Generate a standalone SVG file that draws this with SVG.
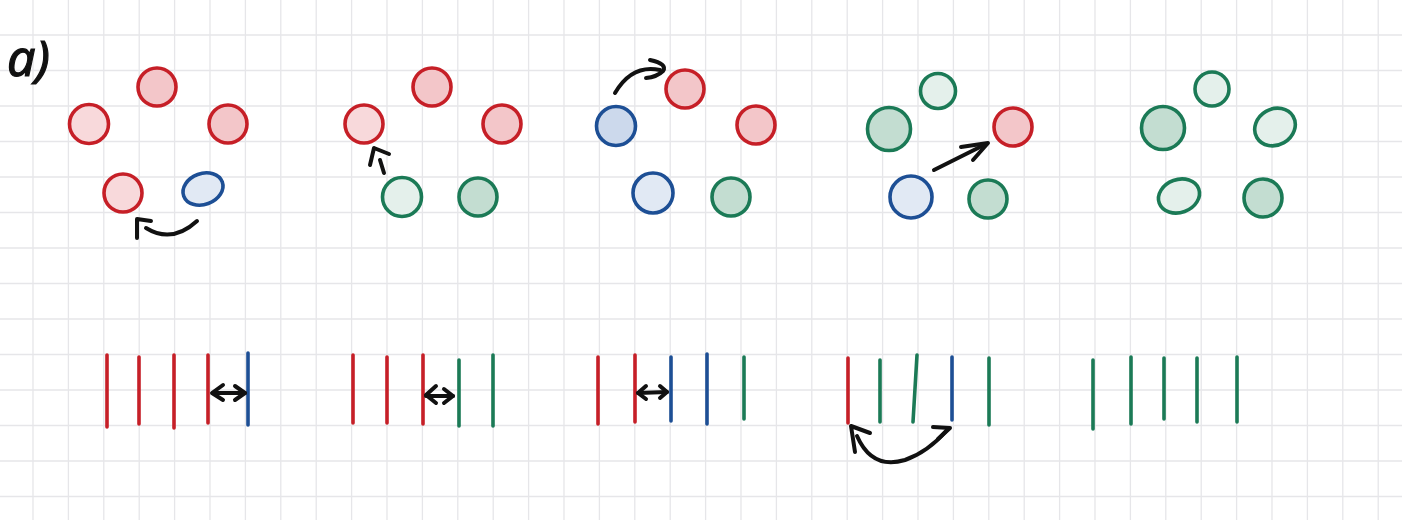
<svg xmlns="http://www.w3.org/2000/svg" width="1402" height="520" viewBox="0 0 1402 520">
  <style>
    .grid { stroke: #e6e6e9; stroke-width: 1.3; fill: none; }
    .n { stroke-width: 3.6; }
    .r { stroke: #c61f27; fill: #f8d9db; }
    .rd { stroke: #c61f27; fill: #f3c6c9; }
    .b { stroke: #1d4f95; fill: #e1e9f4; }
    .bd { stroke: #1d4f95; fill: #ccd9ec; }
    .g { stroke: #1b7a56; fill: #e4f0eb; }
    .gd { stroke: #1b7a56; fill: #c3ddd1; }
    .bar { stroke-width: 3.6; stroke-linecap: round; fill: none; }
    .br { stroke: #c61f27; }
    .bb { stroke: #1d4f95; }
    .bg { stroke: #1b7a56; }
    .arr { stroke: #111111; stroke-width: 4; fill: none; stroke-linecap: round; stroke-linejoin: round; }
    .lbl { font-family: "Noto Sans", "DejaVu Sans", sans-serif; font-style: italic; font-size: 50px; fill: #111111; stroke: #111111; stroke-width: 1.2; }
  </style>
  <rect x="0" y="0" width="1402" height="520" fill="#ffffff"/>
  <g id="grid">
    <path class="grid" d="M33 0V520M68.4 0V520M103.8 0V520M139.2 0V520M174.6 0V520M210 0V520M245.4 0V520M280.8 0V520M316.2 0V520M351.6 0V520M387 0V520M422.4 0V520M457.8 0V520M493.2 0V520M528.6 0V520M564 0V520M599.4 0V520M634.8 0V520M670.2 0V520M705.6 0V520M741 0V520M776.4 0V520M811.8 0V520M847.2 0V520M882.6 0V520M918 0V520M953.4 0V520M988.8 0V520M1024.2 0V520M1059.6 0V520M1095 0V520M1130.4 0V520M1165.8 0V520M1201.2 0V520M1236.6 0V520M1272 0V520M1307.4 0V520M1342.8 0V520M1378.2 0V520"/>
    <path class="grid" d="M0 35H1402M0 70.5H1402M0 106H1402M0 141.5H1402M0 177H1402M0 212.5H1402M0 248H1402M0 283.5H1402M0 319H1402M0 354.5H1402M0 390H1402M0 425.5H1402M0 461H1402M0 496.5H1402"/>
  </g>
  <text id="label-a" class="lbl" x="7" y="76">a)</text>

  <!-- Panel 1 -->
  <g id="p1-top"><circle class="n rd" cx="157" cy="87" r="19"/></g>
  <g id="p1-left"><circle class="n r" cx="89" cy="124" r="19.5"/></g>
  <g id="p1-right"><circle class="n rd" cx="228" cy="124" r="19"/></g>
  <g id="p1-botleft"><circle class="n r" cx="123" cy="193" r="19"/></g>
  <g id="p1-botright"><ellipse class="n b" cx="203" cy="189" rx="20.5" ry="15.5" transform="rotate(-20 203 189)"/></g>

  <!-- Panel 2 -->
  <g id="p2-top"><circle class="n rd" cx="432" cy="87" r="19"/></g>
  <g id="p2-left"><circle class="n r" cx="364" cy="124" r="19"/></g>
  <g id="p2-right"><circle class="n rd" cx="502" cy="124" r="19"/></g>
  <g id="p2-botleft"><circle class="n g" cx="402" cy="197" r="19.5"/></g>
  <g id="p2-botright"><circle class="n gd" cx="478" cy="197" r="19"/></g>

  <!-- Panel 3 -->
  <g id="p3-top"><circle class="n rd" cx="685" cy="89" r="19"/></g>
  <g id="p3-left"><circle class="n bd" cx="616" cy="126" r="19.5"/></g>
  <g id="p3-right"><circle class="n rd" cx="756" cy="125" r="19"/></g>
  <g id="p3-botleft"><circle class="n b" cx="653" cy="193" r="20"/></g>
  <g id="p3-botright"><circle class="n gd" cx="731" cy="197" r="19"/></g>

  <!-- Panel 4 -->
  <g id="p4-top"><circle class="n g" cx="938" cy="91" r="17.5"/></g>
  <g id="p4-left"><circle class="n gd" cx="889" cy="129" r="21.5"/></g>
  <g id="p4-right"><circle class="n rd" cx="1013" cy="127" r="19"/></g>
  <g id="p4-botleft"><circle class="n b" cx="911" cy="197" r="21"/></g>
  <g id="p4-botright"><circle class="n gd" cx="988" cy="199" r="19"/></g>

  <!-- Panel 5 -->
  <g id="p5-top"><circle class="n g" cx="1212" cy="89" r="17"/></g>
  <g id="p5-left"><circle class="n gd" cx="1163" cy="128" r="21.5"/></g>
  <g id="p5-right"><ellipse class="n g" cx="1275" cy="127" rx="21" ry="18" transform="rotate(-30 1275 127)"/></g>
  <g id="p5-botleft"><ellipse class="n g" cx="1179" cy="196" rx="21" ry="16.5" transform="rotate(-20 1179 196)"/></g>
  <g id="p5-botright"><circle class="n gd" cx="1263" cy="198" r="19"/></g>

  <g id="bars1">
    <g id="b1-1"><path class="bar br" d="M107 355V427"/></g>
    <g id="b1-2"><path class="bar br" d="M139 357V424"/></g>
    <g id="b1-3"><path class="bar br" d="M174 355V428"/></g>
    <g id="b1-4"><path class="bar br" d="M208 355V423"/></g>
    <g id="b1-5"><path class="bar bb" d="M248 353V425"/></g>
  </g>
  <g id="bars2">
    <g id="b2-1"><path class="bar br" d="M353 355V423"/></g>
    <g id="b2-2"><path class="bar br" d="M387 357V423"/></g>
    <g id="b2-3"><path class="bar br" d="M423 355V424"/></g>
    <g id="b2-4"><path class="bar bg" d="M459 360V426"/></g>
    <g id="b2-5"><path class="bar bg" d="M493 355V426"/></g>
  </g>
  <g id="bars3">
    <g id="b3-1"><path class="bar br" d="M598 357V424"/></g>
    <g id="b3-2"><path class="bar br" d="M635 355V422"/></g>
    <g id="b3-3"><path class="bar bb" d="M671 357V421"/></g>
    <g id="b3-4"><path class="bar bb" d="M707 354V424"/></g>
    <g id="b3-5"><path class="bar bg" d="M744 357V419"/></g>
  </g>
  <g id="bars4">
    <g id="b4-1"><path class="bar br" d="M848 358V423"/></g>
    <g id="b4-2"><path class="bar bg" d="M880 360V422"/></g>
    <g id="b4-3"><path class="bar bg" d="M917 355L913 422"/></g>
    <g id="b4-4"><path class="bar bb" d="M952 357V420"/></g>
    <g id="b4-5"><path class="bar bg" d="M989 358V425"/></g>
  </g>
  <g id="bars5">
    <g id="b5-1"><path class="bar bg" d="M1093 360V429"/></g>
    <g id="b5-2"><path class="bar bg" d="M1131 357V424"/></g>
    <g id="b5-3"><path class="bar bg" d="M1164 358V419"/></g>
    <g id="b5-4"><path class="bar bg" d="M1197 358V422"/></g>
    <g id="b5-5"><path class="bar bg" d="M1237 357V422"/></g>
  </g>

  <g id="connectors">
    <path class="arr" d="M197 221Q172 244 146 228"/>
    <path class="arr" d="M137 238L137 219L151 221"/>
    <path class="arr" d="M384 173L380 160"/>
    <path class="arr" d="M370 165L374 148L389 154"/>
    <path class="arr" d="M615 93Q632 64 660 70"/>
    <path class="arr" d="M650 60Q668 64 663 71Q657 77 646 78"/>
    <path class="arr" d="M934 170L986 144"/>
    <path class="arr" d="M961 147L988 143L973 160"/>
    <path class="arr" d="M213 393L245 393"/>
    <path class="arr" d="M223 385L212 393L223 400"/>
    <path class="arr" d="M235 386L245 393L235 400"/>
    <path class="arr" d="M426 396L453 396"/>
    <path class="arr" d="M436 386L426 395L436 403"/>
    <path class="arr" d="M444 389L453 396L444 403"/>
    <path class="arr" d="M638 393L667 392"/>
    <path class="arr" d="M646 386L638 393L646 399"/>
    <path class="arr" d="M660 386L667 392L660 398"/>
    <path class="arr" d="M857 436Q872 470 905 460Q928 452 947 430"/>
    <path class="arr" d="M855 452L851 426L870 433"/>
    <path class="arr" d="M933 427L950 428L938 439"/>
  </g>
</svg>
